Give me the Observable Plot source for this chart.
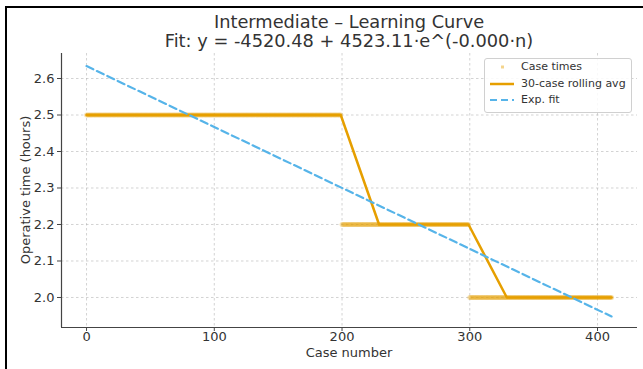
<!DOCTYPE html>
<html><head><meta charset="utf-8">
<script src="https://cdn.jsdelivr.net/npm/d3@7"></script>
<script src="https://cdn.jsdelivr.net/npm/@observablehq/plot@0.6"></script>
<style>
body{margin:0;background:#fff;font-family:"DejaVu Sans",sans-serif;}
#fig{position:relative;width:643px;height:369px;overflow:hidden;background:#fff;}
#fig svg{position:absolute;left:0;top:0;}
.t{position:absolute;white-space:nowrap;color:#333;}
.title{left:61px;width:576px;text-align:center;font-size:17.8px;line-height:20px;}
#legend{position:absolute;left:484px;top:58px;width:146px;height:53px;border:1px solid #d0d0d0;border-radius:3px;background:rgba(255,255,255,0.85);font-size:11px;color:#333;}
#legend .row{position:absolute;left:0;height:14px;line-height:14px;}
#legend svg{position:absolute;left:5px;top:0;}
#legend span{position:absolute;left:36px;top:0;white-space:nowrap;}
.bl{position:absolute;background:#000;}
</style></head><body>
<div id="fig">
  <div class="t title" style="top:12px;">Intermediate – Learning Curve</div>
  <div class="t title" style="top:31px;">Fit: y = -4520.48 + 4523.11·e^(-0.000·n)</div>
  <div class="t" style="left:0;width:698px;text-align:center;top:345px;font-size:13px;line-height:16px;" id="xl">Case number</div>
  <div class="t" id="yl" style="font-size:13px;left:25px;top:190px;transform:translate(-50%,-50%) rotate(-90deg);">Operative time (hours)</div>
  <div id="legend"></div>
  <div class="bl" style="left:5px;top:6px;width:638px;height:2px;"></div>
  <div class="bl" style="left:5px;top:6px;width:2px;height:363px;"></div>
</div>
<script>
// ---- data ----
const caseLevels = [2.5, 2.2, 2.0];
const caseStarts = [0, 200, 300];
const caseEnds = [199, 299, 411];
const rollX = [0, 199, 229, 299, 329, 411];
const rollY = [2.5, 2.5, 2.2, 2.2, 2.0, 2.0];
const fitX = [0, 411];
const fitY = [2.634, 1.948];
const xTicks = [0, 100, 200, 300, 400];
const yTicks = [2.0, 2.1, 2.2, 2.3, 2.4, 2.5, 2.6];
const xDomain = [-19.6, 431.3];
const yDomain = [1.9178, 2.6685];
const legendLabels = ["Case times", "30-case rolling avg", "Exp. fit"];

const ORANGE = "#E69F00", BLUE = "#56B4E9";

const cases = [];
caseLevels.forEach((lv, i) => {
  for (let n = caseStarts[i]; n <= caseEnds[i]; n++) cases.push({n, t: lv});
});
const roll = rollX.map((x, i) => ({x, y: rollY[i]}));
const fit = fitX.map((x, i) => ({x, y: fitY[i]}));

const chart = Plot.plot({
  width: 643, height: 369,
  marginLeft: 61, marginRight: 6, marginTop: 53, marginBottom: 42,
  style: {fontFamily: "DejaVu Sans, sans-serif", fontSize: "13px", color: "#333", background: "transparent"},
  x: {domain: xDomain},
  y: {domain: yDomain},
  marks: [
    Plot.gridX(xTicks, {stroke: "#b0b0b0", strokeOpacity: 0.7, strokeDasharray: "2.5,2.5", strokeWidth: 0.8}),
    Plot.gridY(yTicks, {stroke: "#b0b0b0", strokeOpacity: 0.7, strokeDasharray: "2.5,2.5", strokeWidth: 0.8}),
    Plot.dot(cases, {x: "n", y: "t", r: 2.5, fill: ORANGE, fillOpacity: 0.3, stroke: "none"}),
    Plot.line(roll, {x: "x", y: "y", stroke: ORANGE, strokeWidth: 2.5}),
    Plot.line(fit, {x: "x", y: "y", stroke: BLUE, strokeWidth: 2.2, strokeDasharray: "7.5,4"}),
    Plot.ruleX([xDomain[0]], {stroke: "#444", strokeWidth: 1.2}),
    Plot.ruleY([yDomain[0]], {stroke: "#444", strokeWidth: 1.2}),
    Plot.axisX(xTicks, {tickSize: 4, tickPadding: 0, tickFormat: d3.format("d"), label: null, stroke: "#444", fill: "#333"}),
    Plot.axisY(yTicks, {tickSize: 4, tickPadding: 3, tickFormat: d3.format(".1f"), label: null, stroke: "#444", fill: "#333"})
  ]
});
document.getElementById("fig").insertBefore(chart, document.getElementById("fig").firstChild);

// legend
const leg = document.getElementById("legend");
const rowsTop = [1, 18, 34];
legendLabels.forEach((lab, i) => {
  const row = document.createElement("div");
  row.className = "row";
  row.style.top = rowsTop[i] + "px";
  let sym;
  if (i === 0) sym = `<svg width="26" height="14"><rect x="11" y="5.5" width="3" height="3" fill="${ORANGE}" fill-opacity="0.45"/></svg>`;
  else if (i === 1) sym = `<svg width="26" height="14"><line x1="0" x2="24" y1="7" y2="7" stroke="${ORANGE}" stroke-width="2.5"/></svg>`;
  else sym = `<svg width="26" height="14"><line x1="0" x2="24" y1="7" y2="7" stroke="${BLUE}" stroke-width="2" stroke-dasharray="7,4"/></svg>`;
  row.innerHTML = sym + `<span>${lab}</span>`;
  leg.appendChild(row);
});
</script>
</body></html>
